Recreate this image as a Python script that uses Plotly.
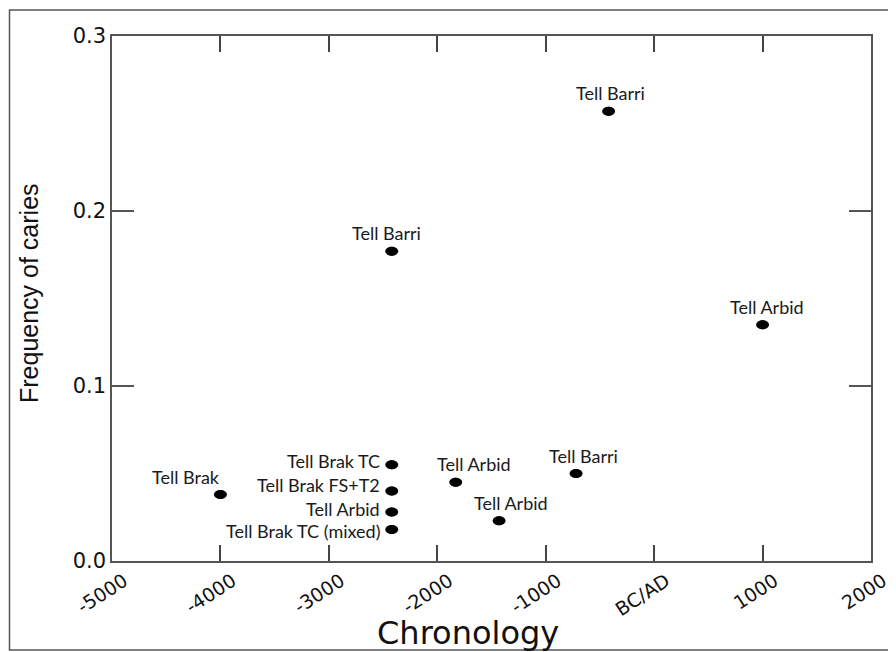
import plotly.graph_objects as go

# ---- data ----
sites = ["Tell Brak", "Tell Brak TC", "Tell Brak FS+T2", "Tell Arbid", "Tell Brak TC (mixed)",
         "Tell Barri", "Tell Arbid", "Tell Arbid", "Tell Barri", "Tell Barri", "Tell Arbid"]
chronology = [-4000, -2420, -2420, -2420, -2420, -2420, -1830, -1430, -720, -420, 1000]
caries = [0.038, 0.055, 0.040, 0.028, 0.018, 0.177, 0.045, 0.023, 0.050, 0.257, 0.135]

x_tickvals = [-5000, -4000, -3000, -2000, -1000, 0, 1000, 2000]
x_ticktext = ["-5000", "-4000", "-3000", "-2000", "-1000", "BC/AD", "1000", "2000"]
y_tickvals = [0.0, 0.1, 0.2, 0.3]
y_ticktext = ["0.0", "0.1", "0.2", "0.3"]

# ---- label styling (pixel offsets, anchors) ----
label_xanchor = ["center", "right", "right", "right", "right",
                 "center", "center", "center", "center", "center", "center"]
label_yanchor = ["bottom", "middle", "middle", "middle", "middle",
                 "bottom", "bottom", "bottom", "bottom", "bottom", "bottom"]
label_xshift = [-34, -10, -10, -10, -10, -5, 18, 12, 7, 2, 4]
label_yshift = [5, 4, 6, 3, -1, 5, 5, 5, 5, 5, 5]

# page body has an 8px margin; figure coordinates are page coordinates minus 8
OFF = 8
W, H = 896, 652
L, R, T, B = 112 - OFF, W - (871 - OFF), 36 - OFF, H - (561 - OFF)
pw, ph = W - L - R, H - T - B

def px_x(p):
    return (p - OFF - L) / pw

def px_y(p):
    return (H - B - (p - OFF)) / ph

fig = go.Figure()
fig.add_trace(go.Scatter(
    x=chronology, y=caries, mode="markers",
    marker=dict(color="black", size=9, symbol="circle"),
    hoverinfo="skip", showlegend=False,
))

shapes = []
for xv, yv in zip(chronology, caries):
    shapes.append(dict(
        type="circle", xref="x", yref="y",
        xsizemode="pixel", ysizemode="pixel",
        xanchor=xv, yanchor=yv,
        x0=-6.5, x1=6.5, y0=-4.5, y1=4.5,
        fillcolor="black", line=dict(width=0), layer="above",
    ))
# outer frame
shapes.append(dict(type="rect", xref="paper", yref="paper",
                   x0=px_x(9.5), x1=px_x(910), y0=px_y(650), y1=px_y(10),
                   line=dict(color="#555", width=1.5), fillcolor="rgba(0,0,0,0)", layer="below"))

annotations = []
for s, xv, yv, xa, ya, xs, ys in zip(sites, chronology, caries, label_xanchor,
                                      label_yanchor, label_xshift, label_yshift):
    annotations.append(dict(
        x=xv, y=yv, xref="x", yref="y", text=s, showarrow=False,
        xanchor=xa, yanchor=ya, xshift=xs, yshift=ys,
        font=dict(family="Lato, Open Sans, sans-serif", size=18, color="#1a1a1a"),
    ))
annotations.append(dict(
    x=px_x(468), y=px_y(654), xref="paper", yref="paper", text="Chronology",
    showarrow=False, xanchor="center", yanchor="bottom",
    font=dict(family="DejaVu Sans, sans-serif", size=32, color="#111"),
))
annotations.append(dict(
    x=px_x(29), y=px_y(293), xref="paper", yref="paper", text="Frequency of caries",
    showarrow=False, xanchor="center", yanchor="middle", textangle=-90,
    font=dict(family="Liberation Sans Narrow, Arial Narrow, Liberation Sans, sans-serif",
              size=25, color="#111"),
))

fig.update_layout(
    width=W, height=H,
    margin=dict(l=L, r=R, t=T, b=B),
    paper_bgcolor="white", plot_bgcolor="white",
    shapes=shapes, annotations=annotations,
    showlegend=False,
)
fig.update_xaxes(
    range=[-5000, 2000], tickmode="array", tickvals=x_tickvals, ticktext=x_ticktext,
    ticks="inside", ticklen=16, tickwidth=1.5, tickcolor="#444",
    showline=True, linecolor="#555", linewidth=1.5, mirror="ticks",
    showgrid=False, zeroline=False, tickangle=-33, ticklabelshift=12,
    tickfont=dict(family="DejaVu Sans, sans-serif", size=19, color="#111"),
)
fig.update_yaxes(
    range=[0, 0.3], tickmode="array", tickvals=y_tickvals, ticktext=y_ticktext,
    ticks="inside", ticklen=22, tickwidth=1.5, tickcolor="#555",
    showline=True, linecolor="#555", linewidth=1.5, mirror="ticks",
    showgrid=False, zeroline=False,
    tickfont=dict(family="DejaVu Sans, sans-serif", size=21, color="#111"),
)

fig.write_html("out.html")
